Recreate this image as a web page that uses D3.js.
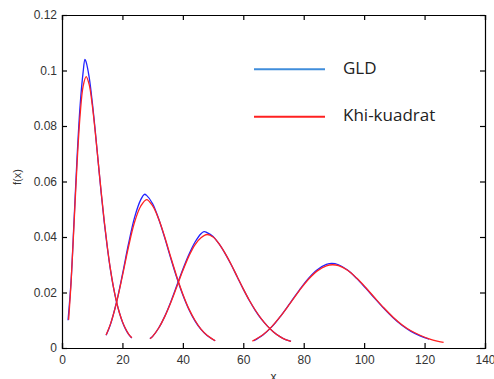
<!DOCTYPE html>
<html lang="id">
  <head>
    <meta charset="UTF-8" />
    <title>GLD vs Khi-kuadrat</title>
    <style>
      * {
        margin: 0;
        padding: 0;
      }
      body {
        background-color: #fff;
      }
      .axis text {
        font-family: "Liberation Sans", Arial, sans-serif;
        font-size: 12px;
        fill: #333;
      }
    </style>
  </head>
  <body>
    <script src="https://cdn.jsdelivr.net/npm/d3@7"></script>
    <script>
      // tick labels
      const xTicks = [0, 20, 40, 60, 80, 100, 120, 140];
      const yTicks = [0, 0.02, 0.04, 0.06, 0.08, 0.1, 0.12];

      // Khi-kuadrat (red) curves
      const khi1X = [2.2, 3, 4, 5, 6, 7, 8, 9, 10, 11, 12, 13, 14, 15, 16, 17, 18, 19, 20, 21, 22, 23.1];
      const khi1Y = [0.0102, 0.0235, 0.0451, 0.0668, 0.084, 0.0944, 0.0978, 0.0949, 0.0877, 0.0779, 0.0669, 0.0559, 0.0456, 0.0365, 0.0286, 0.0221, 0.0169, 0.0127, 0.0095, 0.007, 0.0051, 0.0037];
      const khi2X = [14.6, 16, 18, 20, 22, 24, 26, 28, 30, 32, 34, 36, 38, 40, 42, 44, 46, 48, 50.7];
      const khi2Y = [0.0047, 0.0085, 0.0162, 0.026, 0.0364, 0.0453, 0.051, 0.0535, 0.0512, 0.0465, 0.04, 0.0327, 0.0257, 0.0194, 0.0141, 0.01, 0.0068, 0.0046, 0.0026];
      const khi3X = [29.1, 30, 32, 34, 36, 38, 40, 42, 44, 46, 48, 50, 52, 54, 56, 58, 60, 62, 64, 66, 68, 70, 72, 74, 75.8];
      const khi3Y = [0.0033, 0.0042, 0.0072, 0.0113, 0.0164, 0.0221, 0.0279, 0.0331, 0.0372, 0.0397, 0.0409, 0.04, 0.0375, 0.0341, 0.0301, 0.0257, 0.0213, 0.0172, 0.0136, 0.0105, 0.0079, 0.0058, 0.0042, 0.003, 0.0024];
      const khi4X = [63, 66.5, 69.5, 72.5, 75.5, 78.5, 81.5, 84.5, 87.5, 89.5, 91.5, 94.5, 97.5, 100.5, 103.5, 106.5, 109.5, 112.5, 115.5, 118.5, 121.5, 124.5, 126.3];
      const khi4Y = [0.0025, 0.0048, 0.0078, 0.0117, 0.0161, 0.0206, 0.0247, 0.0278, 0.0296, 0.03, 0.0297, 0.028, 0.0252, 0.0218, 0.0181, 0.0145, 0.0112, 0.0084, 0.0062, 0.0046, 0.0033, 0.0024, 0.002];

      // GLD (blue) curves
      const gld1X = [2.0, 3, 4, 5, 6, 7, 7.6, 8, 9, 10, 11, 12, 13, 14, 15, 16, 17, 18, 19, 20, 21, 22, 23.1];
      const gld1Y = [0.01, 0.024, 0.0462, 0.069, 0.0875, 0.0995, 0.104, 0.103, 0.0975, 0.0888, 0.0783, 0.0668, 0.0555, 0.0452, 0.0362, 0.0284, 0.022, 0.0168, 0.0127, 0.0094, 0.0069, 0.005, 0.0036];
      const gld2X = [14.6, 16, 18, 20, 22, 24, 26, 27.3, 28, 30, 32, 34, 36, 38, 40, 42, 44, 46, 48, 50.7];
      const gld2Y = [0.0046, 0.0084, 0.0163, 0.0265, 0.0375, 0.047, 0.0533, 0.0554, 0.055, 0.052, 0.0465, 0.0397, 0.0323, 0.0253, 0.0191, 0.0139, 0.0098, 0.0067, 0.0045, 0.0026];
      const gld3X = [29.1, 30, 32, 34, 36, 38, 40, 42, 44, 46, 47, 48, 50, 52, 54, 56, 58, 60, 62, 64, 66, 68, 70, 72, 74, 75.8];
      const gld3Y = [0.0034, 0.0042, 0.0072, 0.0114, 0.0166, 0.0225, 0.0284, 0.0337, 0.0381, 0.0412, 0.0419, 0.0416, 0.0402, 0.0375, 0.034, 0.03, 0.0256, 0.0212, 0.0171, 0.0135, 0.0104, 0.0079, 0.0058, 0.0042, 0.003, 0.0024];
      const gld4X = [63.5, 66.5, 69.5, 72.5, 75.5, 78.5, 81.5, 84.5, 87.5, 89.3, 91.5, 94.5, 97.5, 100.5, 103.5, 106.5, 109.5, 112.5, 115.5, 118.5, 121.5];
      const gld4Y = [0.0026, 0.0047, 0.0077, 0.0117, 0.0162, 0.0208, 0.025, 0.0282, 0.0301, 0.0305, 0.03, 0.0281, 0.0251, 0.0216, 0.0179, 0.0143, 0.011, 0.0082, 0.006, 0.0044, 0.0032];

      const legendLabels = ["GLD", "Khi-kuadrat"];

      const W = 494,
        H = 379;
      const plot = { left: 62, right: 485, top: 15, bottom: 348 };

      const zip = (xs, ys) => xs.map((x, i) => [x, ys[i]]);
      const gldCurves = [zip(gld1X, gld1Y), zip(gld2X, gld2Y), zip(gld3X, gld3Y), zip(gld4X, gld4Y)];
      const khiCurves = [zip(khi1X, khi1Y), zip(khi2X, khi2Y), zip(khi3X, khi3Y), zip(khi4X, khi4Y)];

      const svg = d3.select("body").append("svg").attr("width", W).attr("height", H);

      const x = d3.scaleLinear().domain([0, 140]).range([plot.left, plot.right]);
      const y = d3.scaleLinear().domain([0, 0.12]).range([plot.bottom, plot.top]);
      const fmt = (d) => String(+d.toFixed(2));

      // 坐标轴
      svg
        .append("g")
        .attr("class", "axis")
        .attr("transform", `translate(0,${plot.bottom})`)
        .call(d3.axisBottom(x).tickValues(xTicks).tickFormat(fmt).tickSize(-5).tickPadding(7));
      svg
        .append("g")
        .attr("class", "axis")
        .attr("transform", `translate(${plot.left},0)`)
        .call(d3.axisLeft(y).tickValues(yTicks).tickFormat(fmt).tickSize(-5).tickPadding(5));
      svg
        .append("g")
        .attr("class", "axis")
        .attr("transform", `translate(0,${plot.top})`)
        .call(d3.axisTop(x).tickValues(xTicks).tickFormat("").tickSize(-5));
      svg
        .append("g")
        .attr("class", "axis")
        .attr("transform", `translate(${plot.right},0)`)
        .call(d3.axisRight(y).tickValues(yTicks).tickFormat("").tickSize(-5));
      svg.selectAll(".axis path, .axis line").attr("stroke", "#000").attr("stroke-width", 1.2);

      // 轴标题
      svg
        .append("text")
        .attr("x", (plot.left + plot.right) / 2)
        .attr("y", 381)
        .attr("text-anchor", "middle")
        .attr("font-family", "Liberation Sans, Arial, sans-serif")
        .attr("font-size", 12)
        .attr("fill", "#333")
        .text("x");
      svg
        .append("text")
        .attr("transform", `translate(21,177) rotate(-90)`)
        .attr("text-anchor", "middle")
        .attr("font-family", "Liberation Sans, Arial, sans-serif")
        .attr("font-size", 11)
        .attr("fill", "#333")
        .text("f(x)");

      // 曲线
      const line = d3
        .line()
        .x((d) => x(d[0]))
        .y((d) => y(d[1]))
        .curve(d3.curveCatmullRom);

      svg
        .selectAll("path.gld")
        .data(gldCurves)
        .enter()
        .append("path")
        .classed("gld", true)
        .attr("d", line)
        .attr("fill", "none")
        .attr("stroke", "#2222ff")
        .attr("stroke-width", 1.3);
      svg
        .selectAll("path.khi")
        .data(khiCurves)
        .enter()
        .append("path")
        .classed("khi", true)
        .attr("d", line)
        .attr("fill", "none")
        .attr("stroke", "#ff2222")
        .attr("stroke-width", 1.3);

      // 图例
      const legendColors = ["#3f8ddb", "#ff2020"];
      const legend = svg
        .selectAll("g.legend")
        .data(legendLabels)
        .enter()
        .append("g")
        .classed("legend", true)
        .attr("transform", (d, i) => `translate(254,${69.3 + i * 47.4})`);
      legend
        .append("line")
        .attr("x1", 0)
        .attr("x2", 71)
        .attr("stroke", (d, i) => legendColors[i])
        .attr("stroke-width", 2);
      legend
        .append("text")
        .attr("x", 89)
        .attr("y", 4.5)
        .attr("font-family", "Open Sans, sans-serif")
        .attr("font-size", 17)
        .attr("fill", "#222")
        .text((d) => d);
    </script>
  </body>
</html>
